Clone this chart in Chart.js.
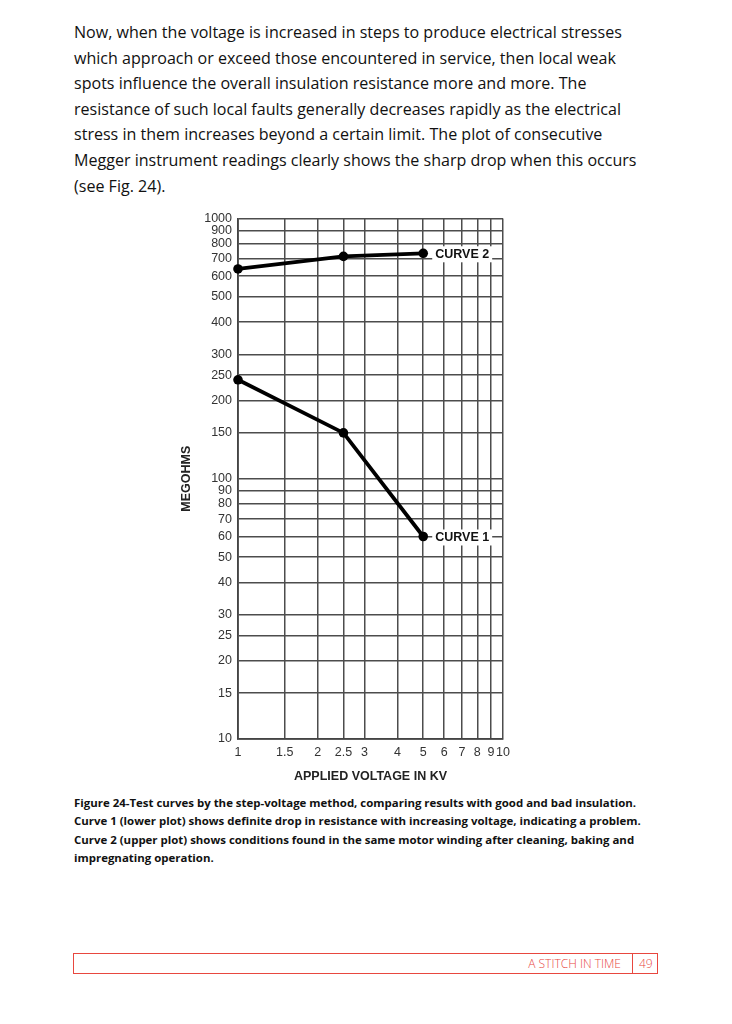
<!DOCTYPE html>
<html><head><meta charset="utf-8">
<script src="https://cdn.jsdelivr.net/npm/chart.js@4.4.0/dist/chart.umd.min.js"></script>
<style>
html,body{margin:0;padding:0;background:#fff}
body{width:732px;height:1024px;position:relative;overflow:hidden}
.para{position:absolute;left:74px;top:20px;font-family:"Open Sans";font-size:15.5px;line-height:25.6px;color:#111;white-space:pre}
.cap{position:absolute;left:74px;top:794px;font-family:"Open Sans";font-weight:bold;font-size:11.5px;line-height:18.3px;color:#111;white-space:pre}
#wrap{position:absolute;left:170px;top:205px;width:360px;height:585px}
.footer{position:absolute;left:73px;top:953px;width:585px;height:21px;border:1px solid #e8473f;box-sizing:border-box;font-family:"Open Sans";font-size:12px;color:#e8473f}
.footer .t{position:absolute;right:36px;top:1px;line-height:18px;font-weight:300}
.footer .sep{position:absolute;left:558px;top:0;bottom:0;border-left:1px solid #e8473f}
.footer .n{position:absolute;left:565px;top:1px;line-height:18px;font-weight:300}
</style></head>
<body>
<div class="para" id="para"></div>
<div id="wrap"><canvas id="c"></canvas></div>
<div class="cap" id="cap"></div>
<div class="footer"><span class="t">A STITCH IN TIME</span><span class="sep"></span><span class="n">49</span></div>
<script>
// ---- data ----
const voltages = [1, 2.5, 5];
const curve1 = [240, 150, 60];
const curve2 = [640, 715, 735];
const seriesNames = ['CURVE 1', 'CURVE 2'];
const xTicks = [1, 1.5, 2, 2.5, 3, 4, 5, 6, 7, 8, 9, 10];
const yTicks = [10, 15, 20, 25, 30, 40, 50, 60, 70, 80, 90, 100, 150, 200, 250, 300, 400, 500, 600, 700, 800, 900, 1000];
const xTitle = 'APPLIED VOLTAGE IN KV';
const yTitle = 'MEGOHMS';
const paraLines = [
  'Now, when the voltage is increased in steps to produce electrical stresses',
  'which approach or exceed those encountered in service, then local weak',
  'spots influence the overall insulation resistance more and more. The',
  'resistance of such local faults generally decreases rapidly as the electrical',
  'stress in them increases beyond a certain limit. The plot of consecutive',
  'Megger instrument readings clearly shows the sharp drop when this occurs',
  '(see Fig. 24).'
];
const capLines = [
  'Figure 24-Test curves by the step-voltage method, comparing results with good and bad insulation.',
  'Curve 1 (lower plot) shows definite drop in resistance with increasing voltage, indicating a problem.',
  'Curve 2 (upper plot) shows conditions found in the same motor winding after cleaning, baking and',
  'impregnating operation.'
];

// ---- text blocks ----
function fitBlock(el, lines, idx, target, weight) {
  el.textContent = lines.join('\n');
  const cs = getComputedStyle(el);
  const base = parseFloat(cs.fontSize);
  const m = document.createElement('canvas').getContext('2d');
  m.font = weight + ' ' + base + 'px "Open Sans"';
  const w = m.measureText(lines[idx]).width;
  el.style.fontSize = (base * target / w) + 'px';
}
fitBlock(document.getElementById('para'), paraLines, 5, 563, 'normal');
fitBlock(document.getElementById('cap'), capLines, 1, 567, 'bold');

// ---- chart ----
const toPts = arr => voltages.map((v, i) => ({x: v, y: arr[i]}));
const labelFont = {family: 'Liberation Sans', size: 12.5};
const titleFont = {family: 'Liberation Sans', size: 12.5, weight: 'bold'};
const gridOpts = {color: '#4d4d4d', lineWidth: 1.5, drawTicks: false};

const curveLabels = {
  id: 'curveLabels',
  afterDatasetsDraw(chart) {
    const ctx = chart.ctx;
    chart.data.datasets.forEach((ds, i) => {
      const meta = chart.getDatasetMeta(i);
      const last = meta.data[meta.data.length - 1];
      ctx.save();
      ctx.font = 'bold 12.5px "Liberation Sans"';
      const w = ctx.measureText(ds.label).width;
      const x = last.x + 12, y = last.y + 1;
      ctx.fillStyle = '#fff';
      ctx.fillRect(x - 3, y - 8, w + 6, 16);
      ctx.fillStyle = '#111';
      ctx.textBaseline = 'middle';
      ctx.fillText(ds.label, x, y);
      ctx.restore();
    });
  }
};

new Chart(document.getElementById('c'), {
  type: 'scatter',
  data: {
    datasets: [
      {label: seriesNames[0], data: toPts(curve1)},
      {label: seriesNames[1], data: toPts(curve2)}
    ].map(d => Object.assign(d, {
      showLine: true, borderColor: '#000', backgroundColor: '#000', borderWidth: 3.8,
      pointRadius: 4.8, pointBackgroundColor: '#000', pointBorderWidth: 0, clip: false
    }))
  },
  options: {
    responsive: true, maintainAspectRatio: false, animation: false,
    layout: {padding: {top: 13, right: 27, bottom: 0, left: 0}},
    plugins: {legend: {display: false}, tooltip: {enabled: false}},
    scales: {
      x: {
        type: 'logarithmic', min: 1, max: 10,
        afterBuildTicks: s => { s.ticks = xTicks.map(v => ({value: v})); },
        afterFit: s => { s.height = 51; },
        ticks: {autoSkip: false, maxRotation: 0, padding: 6, color: '#333', font: labelFont,
                callback: (v) => String(v)},
        grid: gridOpts,
        border: {color: '#444', width: 1.8},
        title: {display: true, text: xTitle, color: '#222', font: titleFont, padding: {top: 0, bottom: 6}}
      },
      y: {
        type: 'logarithmic', min: 10, max: 1000,
        afterBuildTicks: s => { s.ticks = yTicks.map(v => ({value: v})); },
        afterFit: s => { s.width = 68; },
        ticks: {autoSkip: false, padding: 6, color: '#333', font: labelFont,
                callback: (v) => String(v)},
        grid: gridOpts,
        border: {color: '#444', width: 1.8},
        title: {display: true, text: yTitle, color: '#222', font: titleFont, padding: {top: 9, bottom: 0}}
      }
    }
  },
  plugins: [curveLabels]
});
</script>
</body></html>
